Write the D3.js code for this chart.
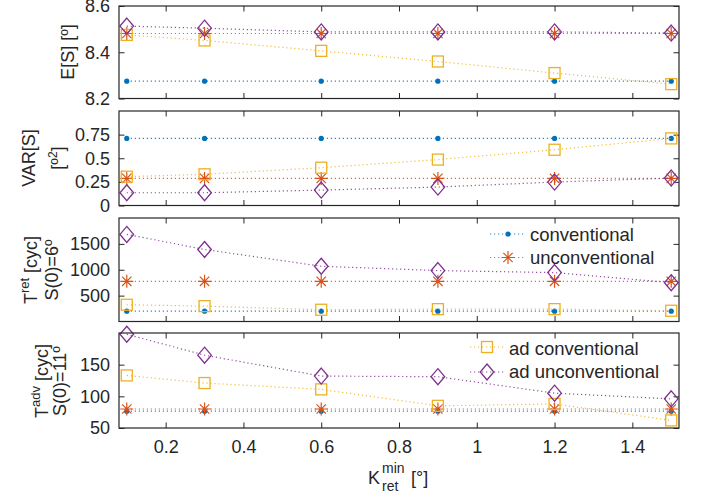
<!DOCTYPE html>
<html>
<head>
<meta charset="utf-8">
<script src="https://cdn.jsdelivr.net/npm/d3@7"></script>
<style>
  body { margin: 0; background: #fff; }
  text { font-family: "Liberation Sans", Arial, sans-serif; fill: #262626; }
</style>
</head>
<body>
<svg id="chart" width="702" height="497"></svg>
<script>
// x values (K_ret^min)
const kmin = [0.1, 0.3, 0.6, 0.9, 1.2, 1.5]
const xTicks = [0.2, 0.4, 0.6, 0.8, 1, 1.2, 1.4]

// panel 1: E[S]
const es_conv = [8.275, 8.275, 8.275, 8.275, 8.275, 8.275]
const es_unconv = [8.481, 8.481, 8.481, 8.481, 8.481, 8.481]
const es_adConv = [8.475, 8.451, 8.406, 8.36, 8.31, 8.262]
const es_adUnconv = [8.513, 8.504, 8.488, 8.488, 8.488, 8.483]

// panel 2: VAR[S]
const var_conv = [0.71, 0.71, 0.71, 0.71, 0.71, 0.71]
const var_unconv = [0.287, 0.287, 0.287, 0.287, 0.287, 0.287]
const var_adConv = [0.305, 0.33, 0.40, 0.486, 0.59, 0.71]
const var_adUnconv = [0.135, 0.135, 0.163, 0.195, 0.248, 0.29]

// panel 3: T^ret, S(0)=6
const tret_conv = [200, 200, 200, 200, 200, 200]
const tret_unconv = [777, 777, 777, 777, 777, 777]
const tret_adConv = [324, 297, 227, 239, 239, 208]
const tret_adUnconv = [1683, 1392, 1068, 984, 945, 751]

// panel 4: T^adv, S(0)=11
const tadv_conv = [76.5, 76.5, 76.5, 76.5, 76.5, 76.5]
const tadv_unconv = [80, 80, 80, 80, 80, 80]
const tadv_adConv = [133, 121, 111, 85, 88, 62]
const tadv_adUnconv = [198, 165, 132, 131, 105, 96]

const series = ['conventional', 'unconventional', 'ad conventional', 'ad unconventional']
const colors = ['#0072BD', '#D95319', '#EDB120', '#7E2F8E']
const markers = ['dot', 'star', 'square', 'diamond']

const panels = [
  {top: 6, bottom: 98.5, domain: [8.2, 8.6], ticks: [8.2, 8.4, 8.6], fmt: d3.format('.1f'),
   data: [es_conv, es_unconv, es_adConv, es_adUnconv]},
  {top: 111, bottom: 205.5, domain: [0, 1], ticks: [0, 0.25, 0.5, 0.75], fmt: d => String(d),
   data: [var_conv, var_unconv, var_adConv, var_adUnconv]},
  {top: 218, bottom: 321.5, domain: [0, 2000], ticks: [500, 1000, 1500], fmt: d => String(d),
   data: [tret_conv, tret_unconv, tret_adConv, tret_adUnconv]},
  {top: 333, bottom: 428, domain: [50, 200], ticks: [50, 100, 150], fmt: d => String(d),
   data: [tadv_conv, tadv_unconv, tadv_adConv, tadv_adUnconv]},
]

const left = 119, right = 679
const svg = d3.select('#chart')
const x = d3.scaleLinear([0.08, 1.52], [left, right])

function drawMarker(g, type, color, cx, cy) {
    if (type === 'dot') {
        g.append('circle').attr('cx', cx).attr('cy', cy).attr('r', 2.6).attr('fill', color)
    } else if (type === 'star') {
        const r = 6.5, d = r * 0.72
        const p = d3.path()
        p.moveTo(cx - r, cy); p.lineTo(cx + r, cy)
        p.moveTo(cx, cy - r); p.lineTo(cx, cy + r)
        p.moveTo(cx - d, cy - d); p.lineTo(cx + d, cy + d)
        p.moveTo(cx - d, cy + d); p.lineTo(cx + d, cy - d)
        g.append('path').attr('d', p.toString()).attr('stroke', color).attr('stroke-width', 1.2).attr('fill', 'none')
    } else if (type === 'square') {
        g.append('rect').attr('x', cx - 5.5).attr('y', cy - 5.5).attr('width', 11).attr('height', 11)
         .attr('fill', 'none').attr('stroke', color).attr('stroke-width', 1.3)
    } else if (type === 'diamond') {
        const w = 6.8, h = 8
        g.append('path').attr('d', `M${cx},${cy - h}L${cx + w},${cy}L${cx},${cy + h}L${cx - w},${cy}Z`)
         .attr('fill', 'none').attr('stroke', color).attr('stroke-width', 1.3)
    }
}

panels.forEach((pnl, pi) => {
    const y = d3.scaleLinear(pnl.domain, [pnl.bottom, pnl.top])
    const g = svg.append('g')
    const tick = 5.5

    // inward ticks on all four sides
    g.append('g').attr('transform', `translate(0,${pnl.bottom})`)
     .call(d3.axisBottom(x).tickValues(xTicks).tickSize(-tick).tickFormat(pi === 3 ? d => String(d) : ''))
    g.append('g').attr('transform', `translate(0,${pnl.top})`)
     .call(d3.axisTop(x).tickValues(xTicks).tickSize(-tick).tickFormat(''))
    g.append('g').attr('transform', `translate(${left},0)`)
     .call(d3.axisLeft(y).tickValues(pnl.ticks).tickSize(-tick).tickFormat(pnl.fmt))
    g.append('g').attr('transform', `translate(${right},0)`)
     .call(d3.axisRight(y).tickValues(pnl.ticks).tickSize(-tick).tickFormat(''))
    g.selectAll('.domain').remove()
    g.selectAll('.tick line').attr('stroke', '#262626').attr('stroke-width', 1)
    g.selectAll('.tick text').attr('font-size', 18).attr('fill', '#262626')
     .style('font-family', '"Liberation Sans", Arial, sans-serif')
    g.selectAll('.tick text').filter(function() { return this.parentNode.parentNode.getAttribute('transform') === `translate(${left},0)` })
     .attr('x', -9)
    if (pi === 3) {
        g.select('g').selectAll('.tick text').attr('y', 0).attr('dy', null).attr('transform', 'translate(0,24.5)')
    }

    // lines and markers
    const line = d3.line().x((d, i) => x(kmin[i])).y(d => y(d))
    pnl.data.forEach((vals, si) => {
        g.append('path').datum(vals).attr('d', line)
         .attr('fill', 'none').attr('stroke', colors[si]).attr('stroke-width', 1.2)
         .attr('stroke-dasharray', '1.2,2.8').attr('stroke-opacity', 0.85)
        const mg = g.append('g')
        vals.forEach((v, i) => drawMarker(mg, markers[si], colors[si], x(kmin[i]), y(v)))
    })

    // frame
    g.append('rect').attr('x', left).attr('y', pnl.top).attr('width', right - left)
     .attr('height', pnl.bottom - pnl.top).attr('fill', 'none').attr('stroke', '#262626').attr('stroke-width', 1.2)
})

// y labels
function ylabel(xb, yc, build) {
    const t = svg.append('text').attr('transform', `translate(${xb},${yc}) rotate(-90)`)
     .attr('text-anchor', 'middle').attr('font-size', 18)
    build(t)
}
ylabel(74, 52, t => t.text('E[S] [º]'))
ylabel(35, 158, t => t.text('VAR[S]'))
ylabel(64, 158, t => {
    t.append('tspan').text('[º')
    t.append('tspan').attr('font-size', 12).attr('dy', -7).text('2')
    t.append('tspan').attr('dy', 7).text(']')
})
ylabel(37, 270, t => {
    t.append('tspan').text('T')
    t.append('tspan').attr('font-size', 13).attr('dy', -8).text('ret')
    t.append('tspan').attr('dy', 8).text(' [cyc]')
})
ylabel(58, 270, t => t.text('S(0)=6º'))
ylabel(48, 381, t => {
    t.append('tspan').text('T')
    t.append('tspan').attr('font-size', 13).attr('dy', -8).text('adv')
    t.append('tspan').attr('dy', 8).text(' [cyc]')
})
ylabel(66, 381, t => t.text('S(0)=11º'))

// x label
svg.append('text').attr('x', 368).attr('y', 483.5).attr('font-size', 18).text('K')
svg.append('text').attr('x', 382).attr('y', 473).attr('font-size', 14).text('min')
svg.append('text').attr('x', 382).attr('y', 491).attr('font-size', 14).text('ret')
svg.append('text').attr('x', 411).attr('y', 483.5).attr('font-size', 18).text('[°]')

// legends
const legends = [
    {x1: 490, x2: 525, xm: 508, tx: 530, rows: [[0, 234, 240.5], [1, 257.5, 264]]},
    {x1: 470, x2: 505, xm: 487, tx: 509, rows: [[2, 347, 355], [3, 372, 378]]},
]
legends.forEach(lg => {
    lg.rows.forEach(([si, ly, tb]) => {
        svg.append('line').attr('x1', lg.x1).attr('x2', lg.x2).attr('y1', ly).attr('y2', ly)
         .attr('stroke', colors[si]).attr('stroke-width', 1.2).attr('stroke-dasharray', '1.2,2.8').attr('stroke-opacity', 0.85)
        drawMarker(svg, markers[si], colors[si], lg.xm, ly)
        svg.append('text').attr('x', lg.tx).attr('y', tb).attr('font-size', 18.5).attr('fill', '#000').text(series[si])
    })
})
</script>
</body>
</html>
